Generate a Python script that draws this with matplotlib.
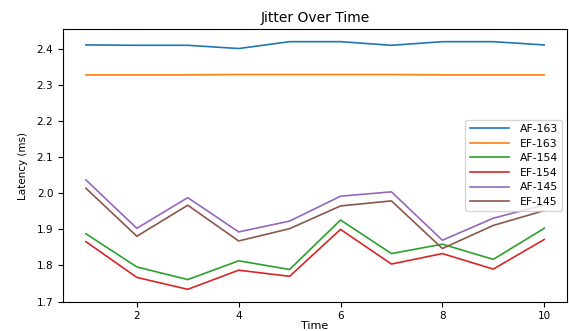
import matplotlib
matplotlib.use("Agg")
import matplotlib.pyplot as plt

time = [1, 2, 3, 4, 5, 6, 7, 8, 9, 10]
af_163 = [2.411, 2.410, 2.410, 2.401, 2.420, 2.420, 2.410, 2.420, 2.420, 2.411]
ef_163 = [2.328, 2.328, 2.328, 2.329, 2.329, 2.329, 2.329, 2.328, 2.328, 2.328]
af_154 = [1.888, 1.796, 1.761, 1.813, 1.789, 1.926, 1.833, 1.859, 1.817, 1.903]
ef_154 = [1.866, 1.767, 1.734, 1.787, 1.770, 1.900, 1.804, 1.833, 1.790, 1.872]
af_145 = [2.037, 1.903, 1.988, 1.893, 1.923, 1.992, 2.004, 1.870, 1.931, 1.968]
ef_145 = [2.014, 1.881, 1.967, 1.868, 1.902, 1.965, 1.979, 1.847, 1.911, 1.952]

series = [("AF-163", af_163), ("EF-163", ef_163), ("AF-154", af_154),
          ("EF-154", ef_154), ("AF-145", af_145), ("EF-145", ef_145)]

fig = plt.figure(figsize=(5.69, 3.31), dpi=100)
ax = fig.add_axes([0.1107, 0.0885, 0.886, 0.823])
for name, vals in series:
    ax.plot(time, vals, label=name, linewidth=1.2)

ax.set_title("Jitter Over Time", fontsize=10, pad=5)
ax.set_xlabel("Time", fontsize=8, labelpad=0)
ax.set_ylabel("Latency (ms)", fontsize=7.5, labelpad=6)
ax.tick_params(labelsize=7.5)
ax.set_xticks([2, 4, 6, 8, 10])
ax.legend(loc="center right", fontsize=7.8, handlelength=3.6, handletextpad=1.0,
          labelspacing=0.42, borderaxespad=0.45)
fig.savefig("out.png", dpi=100)
